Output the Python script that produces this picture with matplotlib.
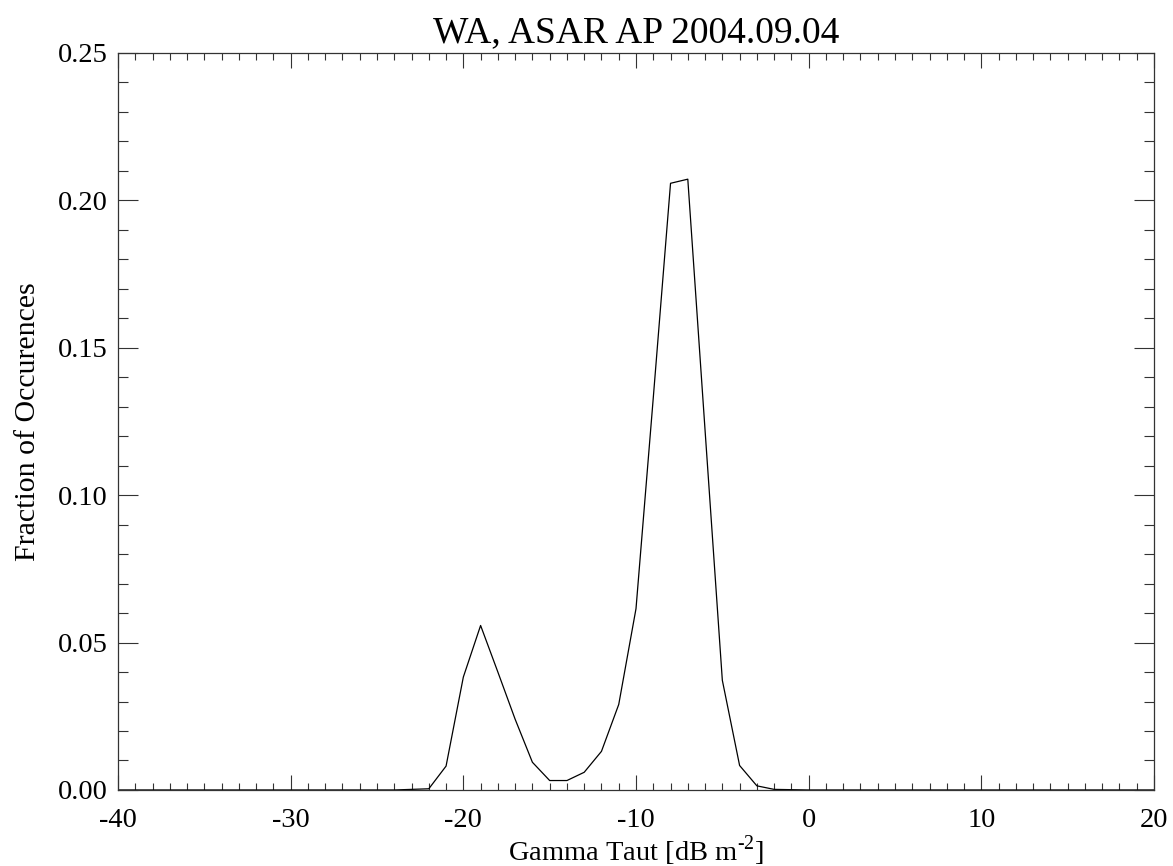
import matplotlib
matplotlib.use("Agg")
import matplotlib.pyplot as plt
from matplotlib.ticker import MultipleLocator, FormatStrFormatter

plt.rcParams['font.family'] = ['Liberation Serif', 'DejaVu Serif']
plt.rcParams['axes.unicode_minus'] = False
plt.rcParams['mathtext.fontset'] = 'custom'
plt.rcParams['mathtext.rm'] = 'Liberation Serif'

title = "WA, ASAR AP 2004.09.04"
xlabel = r"Gamma Taut [dB m$^{\text{-2}}$]"
ylabel = "Fraction of Occurences"

gamma_db = list(range(-40, 21))
fraction = ([0.0] * 17 +                 # -40 .. -24
            [0.0002, 0.0004, 0.0081, 0.0383, 0.0558, 0.040, 0.024,
             0.0094, 0.0032, 0.0032, 0.006, 0.0131, 0.029, 0.0615,
             0.133, 0.2058, 0.2072, 0.122, 0.0372, 0.0083, 0.0014,
             0.0002, 0.0001] +           # -23 .. -1
            [0.0] * 21)                  # 0 .. 20

xticks = [-40, -30, -20, -10, 0, 10, 20]
yticks = [0.00, 0.05, 0.10, 0.15, 0.20, 0.25]

fig = plt.figure(figsize=(11.73, 8.66), dpi=100)
ax = fig.add_axes([0.1006, 0.0878, 0.8832, 0.851])
ax.plot(gamma_db, fraction, color='black', lw=0.9)

ax.set_xlim(-40, 20)
ax.set_ylim(0, 0.25)
ax.set_xticks(xticks)
ax.set_yticks(yticks)
ax.xaxis.set_minor_locator(MultipleLocator(1))
ax.yaxis.set_minor_locator(MultipleLocator(0.01))
ax.yaxis.set_major_formatter(FormatStrFormatter('%.2f'))

ax.tick_params(which='both', direction='in', top=True, right=True,
               labelsize=20.5, width=0.8, color='#333333')
ax.tick_params(axis='x', which='major', length=11, pad=13)
ax.tick_params(axis='x', which='minor', length=5)
ax.tick_params(axis='y', which='major', length=14.5, pad=7.5)
ax.tick_params(axis='y', which='minor', length=7.2)
for s in ax.spines.values():
    s.set_linewidth(0.9)
    s.set_color('#333333')

ax.set_title(title, fontsize=27, pad=8)
ax.set_xlabel(xlabel, fontsize=20.5, labelpad=0)
ax.set_ylabel(ylabel, fontsize=21.5, labelpad=12)

fig.savefig("out.png", dpi=100)
